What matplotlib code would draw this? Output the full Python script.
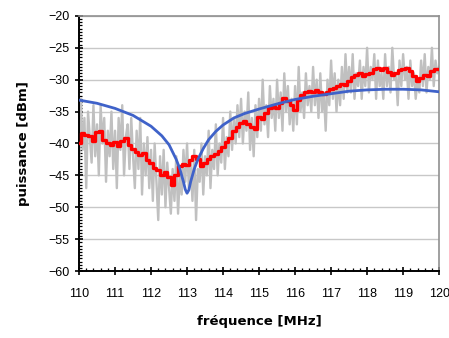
import matplotlib
matplotlib.use('Agg')
import matplotlib.pyplot as plt
import numpy as np
from matplotlib.ticker import MultipleLocator

plt.rcParams['font.family'] = ['Liberation Sans', 'DejaVu Sans']

# raw measurement, 0.05 MHz steps from 110 to 120
gray_start, gray_step = 110.0, 0.05
gray_db = [
    -44, -33, -41, -36, -47, -35, -39, -43, -34, -42,
    -37, -45, -34, -40, -36, -46, -38, -42, -35, -44,
    -38, -47, -36, -41, -34, -45, -39, -37, -44, -36,
    -42, -47, -38, -44, -36, -48, -40, -45, -39, -47,
    -41, -49, -40, -46, -52, -42, -48, -41, -50, -43,
    -47, -51, -44, -49, -42, -51, -45, -48, -41, -46,
    -40, -47, -43, -49, -41, -52, -44, -46, -40, -48,
    -42, -45, -38, -47, -41, -44, -37, -45, -40, -43,
    -36, -44, -39, -42, -35, -41, -36, -40, -34, -39,
    -33, -40, -35, -38, -32, -41, -36, -42, -34, -39,
    -33, -38, -30, -37, -34, -39, -31, -36, -33, -38,
    -30, -36, -32, -38, -29, -35, -31, -37, -33, -38,
    -31, -37, -28, -35, -32, -36, -29, -34, -31, -35,
    -28, -34, -30, -36, -29, -35, -32, -38, -30, -34,
    -27, -33, -29, -35, -30, -34, -28, -33, -26, -32,
    -28, -32, -26, -33, -29, -31, -27, -33, -28, -31,
    -25, -32, -28, -30, -26, -33, -27, -31, -29, -33,
    -26, -31, -28, -32, -25, -30, -29, -34, -27, -31,
    -26, -30, -28, -33, -27, -31, -29, -33, -30, -32,
    -27, -31, -26, -32, -28, -30, -25, -31, -27, -29,
    -28,
]

# averaged trace, 0.1 MHz steps
red_start, red_step = 110.0, 0.1
red_db = [
    -40.0, -38.3, -38.6, -38.8, -39.6, -38.2, -38.0, -39.4, -40.0, -40.3,
    -39.8, -40.4, -39.6, -39.2, -40.2, -40.8, -41.3, -41.8, -41.5, -42.6,
    -43.0, -43.8, -44.2, -45.0, -44.4, -45.2, -46.5, -45.0, -43.6, -43.2,
    -43.4, -42.6, -42.0, -42.4, -43.6, -43.0, -42.4, -42.0, -41.6, -41.2,
    -40.6, -39.8, -39.2, -38.0, -37.4, -36.8, -36.5, -36.9, -37.4, -37.8,
    -35.8, -36.2, -35.2, -34.5, -34.2, -34.5, -33.6, -32.9, -33.4, -34.0,
    -34.7, -33.2, -32.4, -32.0, -31.8, -32.0, -31.6, -31.9, -32.3, -32.0,
    -31.5, -31.3, -31.0, -30.6, -30.9, -30.2, -29.6, -29.2, -29.0, -29.4,
    -29.1, -29.0, -28.4, -28.2, -28.5, -28.2, -28.8, -29.2, -28.9, -28.5,
    -28.3, -28.2, -28.6, -29.4, -30.2, -29.8, -29.2, -29.5, -28.6, -28.4,
    -28.3,
]

# model curve
blue_mhz = [110.0, 110.5, 111.0, 111.5, 112.0, 112.3, 112.5, 112.7, 112.8, 112.9,
            112.95, 113.0, 113.05, 113.1, 113.2, 113.3, 113.45, 113.6, 113.8, 114.0,
            114.3, 114.6, 115.0, 115.5, 116.0, 116.5, 117.0, 117.5, 118.0, 118.5,
            119.0, 119.5, 120.0]
blue_db = [-33.2, -33.7, -34.5, -35.6, -37.3, -38.8, -40.2, -42.5, -44.0, -46.0,
           -47.2, -47.8, -47.3, -46.0, -44.0, -42.5, -40.8, -39.4, -38.1, -37.1,
           -36.0, -35.3, -34.6, -33.8, -33.1, -32.6, -32.2, -31.8, -31.6, -31.5,
           -31.5, -31.6, -31.9]

gray_mhz = gray_start + gray_step * np.arange(len(gray_db))
red_mhz = red_start + red_step * np.arange(len(red_db))

fig = plt.figure(figsize=(4.49, 3.38), dpi=100)
ax = fig.add_axes([0.176, 0.198, 0.802, 0.755])

ax.plot(gray_mhz, gray_db, color='#c0c0c0', lw=1.7, zorder=2)
ax.plot(red_mhz, red_db, color='#ff0000', lw=2.4, drawstyle='steps-mid', zorder=3)
ax.plot(blue_mhz, blue_db, color='#3f62c9', lw=2.0, zorder=4)

ax.set_xlim(110, 120)
ax.set_ylim(-60, -20)
ax.xaxis.set_major_locator(MultipleLocator(1))
ax.xaxis.set_minor_locator(MultipleLocator(0.2))
ax.yaxis.set_major_locator(MultipleLocator(5))
ax.yaxis.set_minor_locator(MultipleLocator(0.5))

ax.grid(axis='y', which='major', color='#c8c8c8', lw=1.0, zorder=0)
ax.set_axisbelow(True)

for side in ('left', 'bottom'):
    ax.spines[side].set_color('black')
    ax.spines[side].set_linewidth(1.4)
for side in ('top', 'right'):
    ax.spines[side].set_color('#909090')
    ax.spines[side].set_linewidth(1.2)

ax.tick_params(which='major', direction='inout', length=6, width=1.2, labelsize=9)
ax.tick_params(axis='x', which='major', pad=9)
ax.tick_params(axis='y', which='major', pad=4)
ax.tick_params(which='minor', direction='in', length=2, width=0.9)
ax.tick_params(top=False, right=False, which='both')

ax.set_xlabel('fréquence [MHz]', fontsize=9.5, fontweight='bold',
              family='DejaVu Sans', labelpad=11)
ax.set_ylabel('puissance [dBm]', fontsize=9.5, fontweight='bold',
              family='DejaVu Sans', labelpad=13)

fig.savefig('out.png', dpi=100)
